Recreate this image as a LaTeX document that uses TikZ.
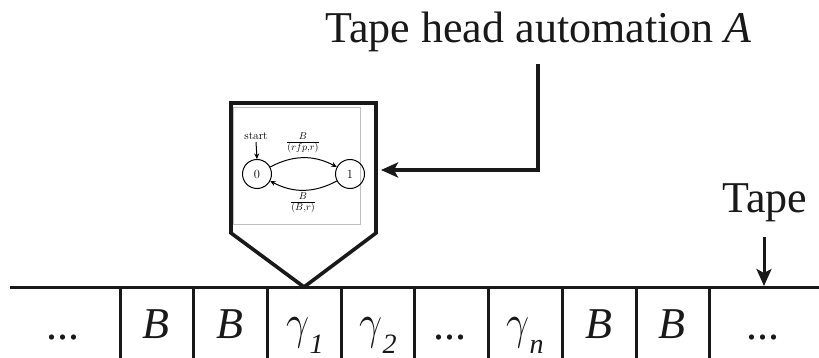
\documentclass[tikz,border=0pt]{standalone}
\usepackage{fontspec}
\usepackage{graphicx}
\newfontfamily\tapefont{Liberation Serif}
\usetikzlibrary{arrows.meta,calc}
\newcommand{\cellgamma}[1]{\scalebox{1.65}[1.95]{$\gamma$}\raisebox{-15pt}{\fontsize{28}{28}\selectfont\itshape #1}}
\tikzset{
  x=1pt,y=-1pt,
  heavyline/.style={line width=3.6pt,draw=black!90},
  cellline/.style={line width=3pt,draw=black!90},
  bigtip/.style={-{Stealth[length=17pt,width=15pt,inset=4pt]}},
  bigtext/.style={inner sep=0pt,text=black!90,font=\tapefont\fontsize{44}{44}\selectfont},
  celltext/.style={inner sep=0pt,anchor=base,text=black!90,font=\tapefont\fontsize{44}{44}\selectfont},
  statenode/.style={circle,draw,line width=1pt,minimum size=29pt,inner sep=0pt,font=\fontsize{12.5}{12.5}\selectfont},
  startlabel/.style={inner sep=0pt,font=\fontsize{11.5}{11.5}\selectfont},
  edgelabel/.style={inner sep=0pt,font=\fontsize{14.5}{14.5}\selectfont},
  autoedge/.style={line width=1pt,-{Stealth[length=5.5pt,width=5pt]}},
}
\begin{document}
\begin{tikzpicture}
\useasboundingbox (0,0) rectangle (819,358);
\fill[white] (0,0) rectangle (819,358);
% inner picture frame
\node[draw=black!25,line width=0.6pt,fill=white,minimum width=127pt,minimum height=117pt,inner sep=0pt] (frame) at (296.5,166) {};
% head outline
\coordinate (hTL) at (231,103);
\coordinate (hTR) at (376,103);
\coordinate (hR) at (376,233);
\coordinate (hL) at (231,233);
\coordinate (hA) at (304,287);
\draw[heavyline,line join=miter] (hTL) -- (hTR) -- (hR) -- (hA) -- (hL) -- cycle;
% automaton
\node[statenode] (s0) at (257,174) {0};
\node[statenode] (s1) at (350,174) {1};
\node[startlabel] (startlab) at (256,136) {start};
\node[edgelabel] (toplab) at (303,143) {$\frac{B}{(rfp,r)}$};
\node[edgelabel] (botlab) at (303,203) {$\frac{B}{(B,r)}$};
\draw[autoedge] (startlab.south) ++(0,2) coordinate (startfrom) -- (s0.north);
\draw[autoedge] (s0) to[bend left=28] (s1);
\draw[autoedge] (s1) to[bend left=28] (s0);
% tape
\coordinate (tL) at (10,287);
\coordinate (tR) at (819,287);
\draw[cellline] (tL) -- (tR);
\foreach \x in {120,193,267,341,414,488,562,636,709}{
  \draw[cellline] (\x,287) -- (\x,358);
}
% labels
\node[bigtext] (title) at (538.5,32) {Tape head automation \textit{A}};
\node[bigtext] (tape) at (765,203) {Tape};
\node[celltext] (c0) at (63,339) {...};
\node[celltext] (c1) at (156,338) {\itshape B};
\node[celltext] (c2) at (230,338) {\itshape B};
\node[celltext] (c3) at (305,338) {\cellgamma{1}};
\node[celltext] (c4) at (378,338) {\cellgamma{2}};
\node[celltext] (c5) at (450,339) {...};
\node[celltext] (c6) at (525,338) {\cellgamma{n}};
\node[celltext] (c7) at (599,338) {\itshape B};
\node[celltext] (c8) at (672,338) {\itshape B};
\node[celltext] (c9) at (763,339) {...};
% callout arrows
\coordinate (a0) at (538,64);
\coordinate (a1) at (538,170);
\coordinate (a2) at (381,170);
\draw[heavyline,bigtip,line join=miter] (a0) -- (a1) -- (a2);
\coordinate (b0) at (764,237);
\coordinate (b1) at (764,286);
\draw[cellline,bigtip] (b0) -- (b1);
\end{tikzpicture}
\end{document}
